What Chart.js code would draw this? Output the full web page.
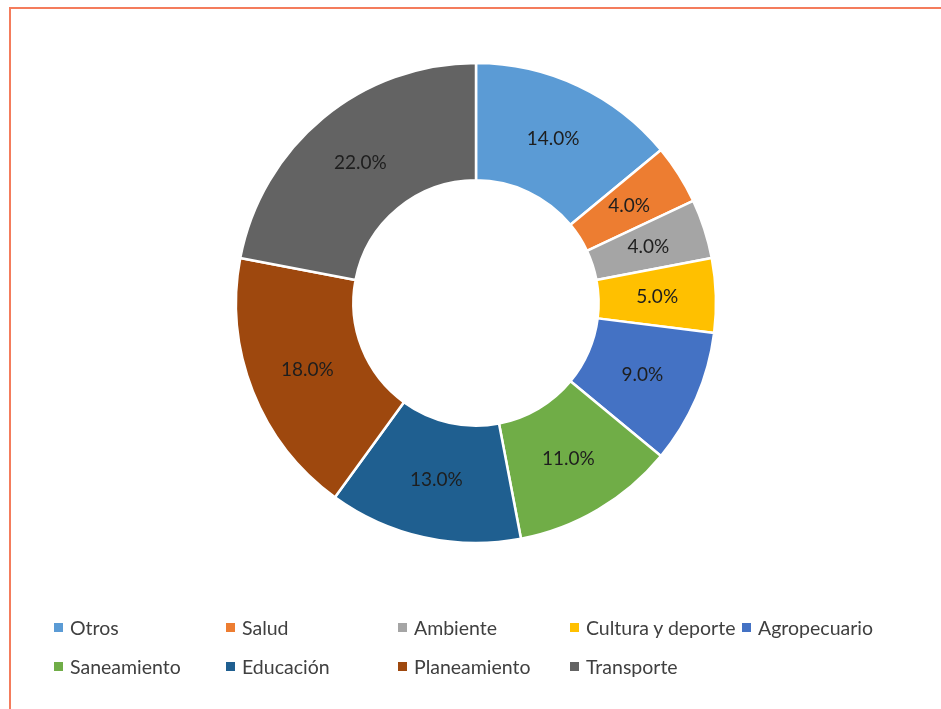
<!DOCTYPE html>
<html lang="es">
<head>
<meta charset="UTF-8">
<title>Distribución por sector</title>
<script src="https://cdn.jsdelivr.net/npm/chart.js"></script>
<style>
    html, body { margin: 0; padding: 0; background: #fff; overflow: hidden; }
    body { width: 941px; height: 709px; position: relative; font-family: Lato, "Open Sans", sans-serif; }
    .rule-top { position: absolute; left: 9px; top: 7px; width: 932px; height: 2px; background: #f47c5c; }
    .rule-left { position: absolute; left: 9px; top: 7px; width: 2px; height: 702px; background: #f47c5c; }
    #chart { position: absolute; left: 0; top: 0; }
    #legend { position: absolute; left: 54px; top: 616px; display: grid;
              grid-template-columns: repeat(5, 172px); row-gap: 17px; }
    .item { display: flex; align-items: center; height: 22px; font-size: 19.5px; color: #404040; white-space: nowrap; }
    .box { width: 9px; height: 9px; margin-right: 7px; flex: none; }
</style>
</head>
<body>
<div class="rule-top"></div>
<div class="rule-left"></div>
<canvas id="chart" width="941" height="709"></canvas>
<div id="legend"></div>

<script>
    const sectors = ['Otros', 'Salud', 'Ambiente', 'Cultura y deporte', 'Agropecuario',
                     'Saneamiento', 'Educación', 'Planeamiento', 'Transporte'];
    const shares = [14, 4, 4, 5, 9, 11, 13, 18, 22];
    const colors = ['#5b9bd5', '#ed7d31', '#a5a5a5', '#ffc000', '#4472c4',
                    '#70ad47', '#1f5f90', '#9e480e', '#636363'];

    // percentage text in the middle of each ring segment
    const sliceLabels = {
        id: 'sliceLabels',
        afterDatasetsDraw(chart) {
            const ctx = chart.ctx;
            const meta = chart.getDatasetMeta(0);
            ctx.save();
            ctx.font = '19px Lato, "Open Sans", sans-serif';
            ctx.fillStyle = '#1e1e1e';
            ctx.textAlign = 'center';
            ctx.textBaseline = 'middle';
            meta.data.forEach((arc, i) => {
                const p = arc.tooltipPosition();
                ctx.fillText(shares[i].toFixed(1) + '%', p.x, p.y);
            });
            ctx.restore();
        }
    };

    const chart = new Chart(document.getElementById('chart'), {
        type: 'doughnut',
        data: {
            labels: sectors,
            datasets: [{
                data: shares,
                backgroundColor: colors,
                borderColor: '#ffffff',
                borderWidth: 2.5,
            }],
        },
        options: {
            responsive: false,
            animation: false,
            radius: 240,
            cutout: 122,
            layout: { padding: { left: 236, right: 225, top: 63, bottom: 166 } },
            plugins: {
                legend: { display: false },
                tooltip: { enabled: false },
            },
        },
        plugins: [sliceLabels],
    });

    const legend = document.getElementById('legend');
    sectors.forEach((name, i) => {
        const item = document.createElement('div');
        item.className = 'item';
        const box = document.createElement('span');
        box.className = 'box';
        box.style.background = colors[i];
        item.appendChild(box);
        item.appendChild(document.createTextNode(name));
        legend.appendChild(item);
    });
</script>
</body>
</html>
